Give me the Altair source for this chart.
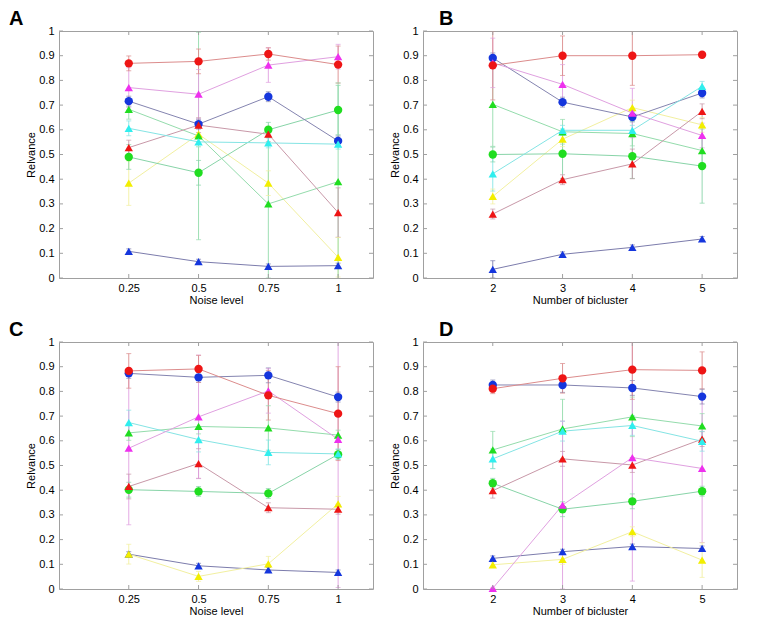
import altair as alt
import pandas as pd

FONT = "Liberation Sans"
BOX = "#a0a0a0"
W, H = 314, 247

series_order = ["blue_t", "yel_t", "green_o", "green_t", "blue_o", "red_t", "cyan_t", "mag_t", "red_o"]

x_noise = [0.25, 0.5, 0.75, 1.0]
x_bic = [2, 3, 4, 5]
y_ticks = [0, 0.1, 0.2, 0.3, 0.4, 0.5, 0.6, 0.7, 0.8, 0.9, 1.0]

# ---- Panel A: relevance vs noise level
A_vals = {
    "red_o":   [0.869, 0.877, 0.907, 0.864],
    "red_t":   [0.528, 0.619, 0.582, 0.265],
    "blue_o":  [0.716, 0.623, 0.734, 0.555],
    "blue_t":  [0.108, 0.066, 0.047, 0.050],
    "mag_t":   [0.771, 0.744, 0.862, 0.896],
    "cyan_t":  [0.606, 0.551, 0.547, 0.542],
    "green_o": [0.490, 0.426, 0.600, 0.680],
    "green_t": [0.683, 0.575, 0.300, 0.390],
    "yel_t":   [0.384, 0.582, 0.384, 0.084],
}
A_err = {
    "red_o":   [0.03, 0.05, 0.025, 0.075],
    "red_t":   [0.03, 0.03, 0.03, 0.10],
    "blue_o":  [0.02, 0.02, 0.02, 0.02],
    "blue_t":  [0.01, 0.01, 0.01, 0.01],
    "mag_t":   [0.08, 0.10, 0.07, 0.05],
    "cyan_t":  [0.03, 0.02, 0.02, 0.02],
    "green_o": [0.05, 0.05, 0.03, 0.10],
    "green_t": [0.04, 0.42, 0.30, 0.40],
    "yel_t":   [0.09, 0.05, 0.05, 0.08],
}

# ---- Panel B: relevance vs number of biclusters
B_vals = {
    "red_o":   [0.861, 0.900, 0.900, 0.904],
    "red_t":   [0.259, 0.398, 0.462, 0.675],
    "blue_o":  [0.891, 0.712, 0.652, 0.749],
    "blue_t":  [0.035, 0.096, 0.124, 0.158],
    "mag_t":   [0.871, 0.784, 0.668, 0.577],
    "cyan_t":  [0.422, 0.598, 0.598, 0.776],
    "green_o": [0.500, 0.503, 0.493, 0.453],
    "green_t": [0.703, 0.592, 0.585, 0.516],
    "yel_t":   [0.330, 0.562, 0.690, 0.620],
}
B_err = {
    "red_o":   [0.14, 0.08, 0.12, 0.01],
    "red_t":   [0.02, 0.02, 0.06, 0.03],
    "blue_o":  [0.02, 0.02, 0.02, 0.02],
    "blue_t":  [0.035, 0.01, 0.01, 0.01],
    "mag_t":   [0.10, 0.08, 0.10, 0.05],
    "cyan_t":  [0.07, 0.02, 0.02, 0.02],
    "green_o": [0.03, 0.10, 0.09, 0.15],
    "green_t": [0.17, 0.05, 0.05, 0.05],
    "yel_t":   [0.03, 0.03, 0.03, 0.03],
}

# ---- Panel C: relevance vs noise level
C_vals = {
    "red_o":   [0.883, 0.891, 0.784, 0.710],
    "red_t":   [0.415, 0.508, 0.329, 0.323],
    "blue_o":  [0.873, 0.857, 0.865, 0.777],
    "blue_t":  [0.141, 0.094, 0.077, 0.067],
    "mag_t":   [0.570, 0.697, 0.802, 0.606],
    "cyan_t":  [0.674, 0.605, 0.553, 0.547],
    "green_o": [0.402, 0.395, 0.387, 0.545],
    "green_t": [0.632, 0.658, 0.652, 0.623],
    "yel_t":   [0.141, 0.051, 0.102, 0.345],
}
C_err = {
    "red_o":   [0.07, 0.055, 0.10, 0.19],
    "red_t":   [0.05, 0.06, 0.02, 0.02],
    "blue_o":  [0.02, 0.02, 0.03, 0.02],
    "blue_t":  [0.01, 0.01, 0.01, 0.01],
    "mag_t":   [0.31, 0.25, 0.09, 0.60],
    "cyan_t":  [0.05, 0.05, 0.05, 0.02],
    "green_o": [0.03, 0.02, 0.02, 0.02],
    "green_t": [0.03, 0.03, 0.09, 0.02],
    "yel_t":   [0.04, 0.02, 0.03, 0.03],
}

# ---- Panel D: relevance vs number of biclusters
D_vals = {
    "red_o":   [0.811, 0.853, 0.888, 0.885],
    "red_t":   [0.398, 0.527, 0.502, 0.607],
    "blue_o":  [0.826, 0.826, 0.814, 0.779],
    "blue_t":  [0.124, 0.151, 0.172, 0.164],
    "mag_t":   [0.003, 0.340, 0.532, 0.488],
    "cyan_t":  [0.527, 0.639, 0.662, 0.598],
    "green_o": [0.428, 0.323, 0.355, 0.396],
    "green_t": [0.563, 0.648, 0.697, 0.660],
    "yel_t":   [0.098, 0.120, 0.232, 0.117],
}
D_err = {
    "red_o":   [0.02, 0.06, 0.12, 0.075],
    "red_t":   [0.03, 0.03, 0.03, 0.03],
    "blue_o":  [0.02, 0.03, 0.03, 0.03],
    "blue_t":  [0.01, 0.01, 0.01, 0.01],
    "mag_t":   [0.0, 0.34, 0.50, 0.30],
    "cyan_t":  [0.04, 0.04, 0.04, 0.04],
    "green_o": [0.02, 0.03, 0.03, 0.02],
    "green_t": [0.075, 0.12, 0.08, 0.05],
    "yel_t":   [0.01, 0.02, 0.02, 0.07],
}

# ---- styles
marker_colors = {
    "red_o": "#ee1515", "red_t": "#ee1515",
    "blue_o": "#1536dd", "blue_t": "#1536dd",
    "mag_t": "#ee30ee", "cyan_t": "#30eeee",
    "green_o": "#20dd20", "green_t": "#20dd20",
    "yel_t": "#f2ee00",
}
line_colors = {
    "red_o": "#dc8c8c", "red_t": "#c898a8",
    "blue_o": "#8484b0", "blue_t": "#7c7cac",
    "mag_t": "#e0a0e0", "cyan_t": "#84e4e4",
    "green_o": "#88d4a8", "green_t": "#94dcac",
    "yel_t": "#f2f0a0",
}
shapes = {s: ("circle" if s.endswith("_o") else "triangle-up") for s in series_order}


def panel(vals, errs, xs, xdom, xtitle, letter, letter_x):
    rows = []
    for s in series_order:
        for xi, v, e in zip(xs, vals[s], errs[s]):
            rows.append({"series": s, "x": xi, "y": v, "lo": v - e, "hi": v + e})
    df = pd.DataFrame(rows)
    base = alt.Chart(df)

    xsc = alt.Scale(domain=xdom, nice=False, zero=False)
    ysc = alt.Scale(domain=[0, 1], nice=False, zero=False)
    xax = alt.Axis(values=xs, labelExpr="'' + datum.value", title=xtitle, ticks=False,
                   domain=False, grid=False, labelPadding=4, titlePadding=1)
    yax = alt.Axis(values=y_ticks, labelExpr="'' + datum.value", title="Relvance", ticks=False,
                   domain=False, grid=False, labelPadding=5, titlePadding=2)

    X = alt.X("x:Q", scale=xsc, axis=xax)
    lc = [line_colors[s] for s in series_order]
    stroke = alt.Stroke("series:N", scale=alt.Scale(domain=series_order, range=lc), legend=None)
    capc = alt.Color("series:N", scale=alt.Scale(domain=series_order, range=lc), legend=None)
    fill = alt.Fill("series:N", scale=alt.Scale(domain=series_order,
                    range=[marker_colors[s] for s in series_order]), legend=None)
    shp = alt.Shape("series:N", scale=alt.Scale(domain=series_order,
                    range=[shapes[s] for s in series_order]), legend=None)

    errbar = base.mark_rule(clip=True, strokeWidth=1, opacity=0.9).encode(
        x=X, y=alt.Y("lo:Q", scale=ysc, axis=yax), y2="hi:Q", stroke=stroke)
    cap_lo = base.mark_tick(clip=True, orient="horizontal", size=5, thickness=1).encode(
        x=X, y=alt.Y("lo:Q", scale=ysc, axis=yax), color=capc)
    cap_hi = base.mark_tick(clip=True, orient="horizontal", size=5, thickness=1).encode(
        x=X, y=alt.Y("hi:Q", scale=ysc, axis=yax), color=capc)
    lines = base.mark_line(strokeWidth=1, clip=True).encode(
        x=X, y=alt.Y("y:Q", scale=ysc, axis=yax), stroke=stroke, detail="series:N")
    pts = base.mark_point(filled=True, size=70, opacity=1).encode(
        x=X, y=alt.Y("y:Q", scale=ysc, axis=yax), fill=fill, shape=shp)

    ydf = pd.DataFrame({"t": y_ticks})
    xdf = pd.DataFrame({"t": xs})
    yt_l = alt.Chart(ydf).mark_rule(color=BOX, strokeWidth=1).encode(
        y=alt.Y("t:Q", scale=ysc, axis=yax), x=alt.value(0), x2=alt.value(4))
    yt_r = alt.Chart(ydf).mark_rule(color=BOX, strokeWidth=1).encode(
        y=alt.Y("t:Q", scale=ysc, axis=yax), x=alt.value(W), x2=alt.value(W - 4))
    xt_b = alt.Chart(xdf).mark_rule(color=BOX, strokeWidth=1).encode(
        x=alt.X("t:Q", scale=xsc, axis=xax), y=alt.value(H), y2=alt.value(H - 4))
    xt_t = alt.Chart(xdf).mark_rule(color=BOX, strokeWidth=1).encode(
        x=alt.X("t:Q", scale=xsc, axis=xax), y=alt.value(0), y2=alt.value(4))

    lab = alt.Chart(pd.DataFrame({"lab": [letter]})).mark_text(
        font=FONT, fontSize=20, fontWeight="bold", align="left", baseline="top", color="#000000"
    ).encode(text="lab:N", x=alt.value(letter_x), y=alt.value(-22))

    return alt.layer(errbar, cap_lo, cap_hi, lines, pts, yt_l, yt_r, xt_b, xt_t, lab).properties(
        width=W, height=H)


pA = panel(A_vals, A_err, x_noise, [0, 1.125], "Noise level", "A", -50)
pB = panel(B_vals, B_err, x_bic, [1, 5.5], "Number of bicluster", "B", 16)
pC = panel(C_vals, C_err, x_noise, [0, 1.125], "Noise level", "C", -50)
pD = panel(D_vals, D_err, x_bic, [1, 5.5], "Number of bicluster", "D", 16)

chart = alt.concat(pA, pB, pC, pD, columns=2, spacing={"row": 64, "column": 50},
                   bounds="flush").properties(padding=0, background="#ffffff").configure_view(
    stroke=BOX, strokeWidth=1
).configure_axis(
    labelFont=FONT, titleFont=FONT, labelFontSize=11, titleFontSize=11,
    labelColor="#000000", titleColor="#000000", titleFontWeight="normal"
)

chart.save("out.html", embed_options={"renderer": "svg", "actions": False})
